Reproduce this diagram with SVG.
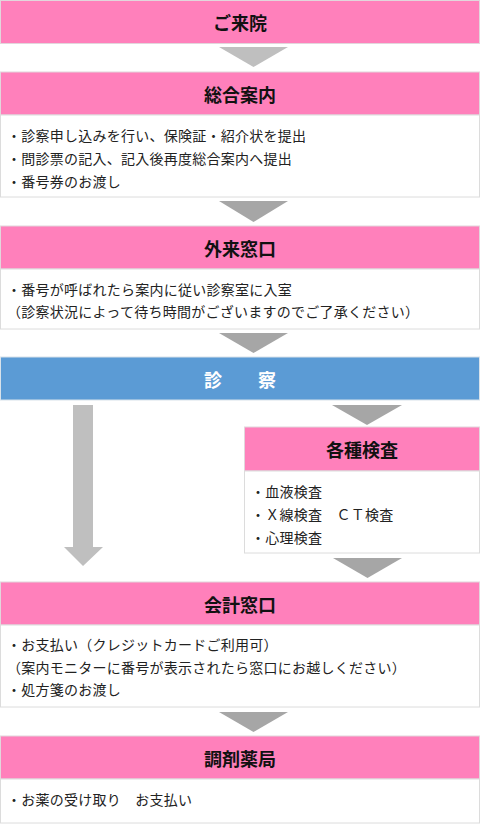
<svg xmlns="http://www.w3.org/2000/svg" width="480" height="824" viewBox="0 0 480 824">
<style>
.hd{fill:#FF80BB;stroke:#e2d6dc;stroke-width:1}
.bd{fill:#fff;stroke:#dcdcdc;stroke-width:1}
.blue{fill:#5B9BD5;stroke:#d8e2ea;stroke-width:1}
.ht{font-family:"Noto Sans CJK JP","Noto Sans",sans-serif;font-size:18px;font-weight:bold;fill:#111;text-anchor:middle;dominant-baseline:central}
.wt{fill:#fff}
.tx{font-family:"Noto Sans CJK JP","Noto Sans",sans-serif;font-size:14px;letter-spacing:0.25px;fill:#222;dominant-baseline:central}
.a1{fill:#bfbfbf}
.a2{fill:#a6a6a6}
</style>
<rect width="480" height="824" fill="#fff"/>
<g id="connectors">
<polygon class="a1" points="219,47 288,47 253.5,67"/>
<polygon class="a2" points="219,201 288,201 253.5,222"/>
<polygon class="a2" points="219,333 288,333 253.5,353"/>
<polygon class="a2" points="332,405 402,405 367,425"/>
<polygon class="a1" points="73,405 93,405 93,547 103,547 83,566 64,547 73,547"/>
<polygon class="a2" points="333,558 402,558 367.5,578"/>
<polygon class="a2" points="219,712 288,712 253.5,732"/>
</g>
<g id="raiin">
<rect class="hd" x="0.5" y="0.5" width="479" height="43"/>
<text class="ht" x="240" y="21.5">ご来院</text>
</g>
<g id="sougou">
<rect class="hd" x="0.5" y="72" width="479" height="43"/>
<text class="ht" x="240" y="93.5">総合案内</text>
<rect class="bd" x="0.5" y="115" width="479" height="82"/>
<text class="tx" x="7" y="134.5">・診察申し込みを行い、保険証・紹介状を提出</text>
<text class="tx" x="7" y="158">・問診票の記入、記入後再度総合案内へ提出</text>
<text class="tx" x="7" y="181">・番号券のお渡し</text>
</g>
<g id="gairai">
<rect class="hd" x="0.5" y="226" width="479" height="43"/>
<text class="ht" x="240" y="247.5">外来窓口</text>
<rect class="bd" x="0.5" y="269" width="479" height="60"/>
<text class="tx" x="7" y="288.5">・番号が呼ばれたら案内に従い診察室に入室</text>
<text class="tx" x="7" y="310.5">（診察状況によって待ち時間がございますのでご了承ください）</text>
</g>
<g id="shinsatsu">
<rect class="blue" x="0.5" y="357" width="479" height="43"/>
<text class="ht wt" x="240" y="378.5">診　　察</text>
</g>
<g id="kensa">
<rect class="hd" x="244.5" y="427" width="235" height="44"/>
<text class="ht" x="362" y="449">各種検査</text>
<rect class="bd" x="244.5" y="471" width="235" height="82"/>
<text class="tx" x="251" y="490.5">・血液検査</text>
<text class="tx" x="251" y="514">・Ｘ線検査　ＣＴ検査</text>
<text class="tx" x="251" y="537">・心理検査</text>
</g>
<g id="kaikei">
<rect class="hd" x="0.5" y="582" width="479" height="43"/>
<text class="ht" x="240" y="603.5">会計窓口</text>
<rect class="bd" x="0.5" y="625" width="479" height="82"/>
<text class="tx" x="7" y="644">・お支払い（クレジットカードご利用可）</text>
<text class="tx" x="7" y="667">（案内モニターに番号が表示されたら窓口にお越しください）</text>
<text class="tx" x="7" y="689">・処方箋のお渡し</text>
</g>
<g id="yakkyoku">
<rect class="hd" x="0.5" y="736" width="479" height="43"/>
<text class="ht" x="240" y="757.5">調剤薬局</text>
<rect class="bd" x="0.5" y="779" width="479" height="44"/>
<text class="tx" x="7" y="799">・お薬の受け取り　お支払い</text>
</g>
</svg>
